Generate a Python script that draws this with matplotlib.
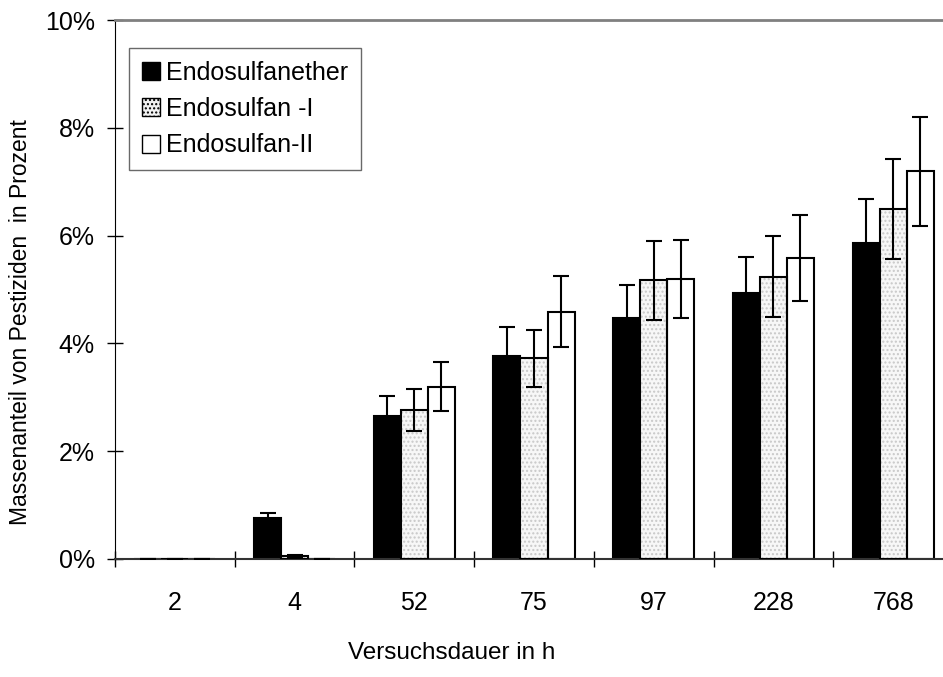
import numpy as np
import matplotlib
matplotlib.use("Agg")
import matplotlib.pyplot as plt
from matplotlib.patches import Patch
from matplotlib.ticker import FuncFormatter

plt.rcParams['font.family'] = ['Liberation Sans', 'DejaVu Sans']

# data (percent)
categories = ['2', '4', '52', '75', '97', '228', '768']
series_names = ['Endosulfanether', 'Endosulfan -I', 'Endosulfan-II']
ether = [0.0, 0.76, 2.65, 3.76, 4.48, 4.93, 5.86]
ether_err = [0.0, 0.09, 0.37, 0.54, 0.61, 0.68, 0.81]
endo1 = [0.0, 0.05, 2.76, 3.72, 5.17, 5.24, 6.50]
endo1_err = [0.0, 0.02, 0.39, 0.52, 0.73, 0.75, 0.93]
endo2 = [0.0, 0.0, 3.20, 4.59, 5.19, 5.59, 7.19]
endo2_err = [0.0, 0.0, 0.45, 0.66, 0.72, 0.80, 1.01]

fig = plt.figure(figsize=(9.43, 6.77), dpi=100)
ax = fig.add_axes([115 / 943, 1 - 559 / 677, (953 - 115) / 943, (559 - 20) / 677])

x = np.arange(len(categories))
w = 0.226
offsets = [-w, 0, w]

# black bars
ax.bar(x + offsets[0], ether, w, color='black', edgecolor='black', linewidth=1.5, zorder=2)
# dotted bars: hatch layer first, then outline
ax.bar(x + offsets[1], endo1, w, color='#f7f7f7', edgecolor='#c8c8c8', hatch='....',
       linewidth=0, zorder=2)
ax.bar(x + offsets[1], endo1, w, fill=False, edgecolor='black', linewidth=1.5, zorder=3)
# white bars
ax.bar(x + offsets[2], endo2, w, color='white', edgecolor='black', linewidth=1.5, zorder=2)

for off, vals, errs in zip(offsets, [ether, endo1, endo2], [ether_err, endo1_err, endo2_err]):
    ax.errorbar(x + off, vals, yerr=errs, fmt='none', ecolor='black', elinewidth=1.5,
                capsize=5.5, capthick=1.5, zorder=4)

ax.set_xlim(-0.5, len(categories) - 0.5)
ax.set_ylim(0, 10)
ax.set_yticks([0, 2, 4, 6, 8, 10])
ax.yaxis.set_major_formatter(FuncFormatter(lambda v, p: f'{v:.0f}%'))
ax.set_xticks(x)
ax.set_xticklabels(categories)
ax.set_xticks(np.arange(-0.5, len(categories), 1.0), minor=True)
ax.tick_params(axis='x', which='major', length=0, pad=23, labelsize=18)
ax.tick_params(axis='x', which='minor', direction='inout', length=12, width=1)
ax.tick_params(axis='y', direction='inout', length=11, width=1, labelsize=18, pad=9)

ax.spines['right'].set_visible(False)
ax.spines['top'].set_color('#808080')
ax.spines['top'].set_linewidth(2)
ax.spines['left'].set_color('black')
ax.spines['bottom'].set_color('#333333')
ax.spines['bottom'].set_linewidth(1.5)

ax.set_xlabel('Versuchsdauer in h', fontsize=17.5)
ax.set_ylabel('Massenanteil von Pestiziden  in Prozent', fontsize=16.5)
ax.xaxis.set_label_coords((452 - 115) / 838, -(642 - 559) / 539)
ax.yaxis.set_label_coords(-(115 - 32) / 838, (559 - 322) / 539)

handles = [
    Patch(facecolor='black', edgecolor='black'),
    Patch(facecolor='#f2f2f2', edgecolor='black', hatch='....'),
    Patch(facecolor='white', edgecolor='black'),
]
leg = ax.legend(handles, series_names, loc='upper left',
                bbox_to_anchor=((129 - 115) / 838, (559 - 48) / 539),
                borderaxespad=0, fontsize=18, frameon=True, fancybox=False,
                handlelength=0.75, handleheight=0.75, handletextpad=0.25,
                labelspacing=0.5, borderpad=0.5)
leg.get_frame().set_edgecolor('#444444')
leg.get_frame().set_linewidth(1)

fig.savefig('out.png', dpi=100)
